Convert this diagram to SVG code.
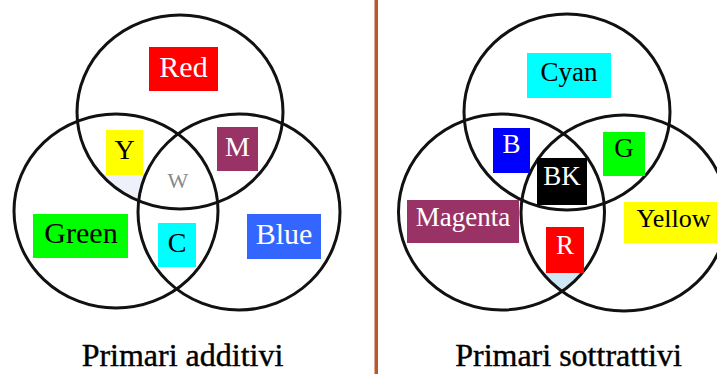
<svg xmlns="http://www.w3.org/2000/svg" width="717" height="374" viewBox="0 0 717 374">
<style>
.c{fill:none;stroke:#111;stroke-width:3}
.t{font-family:"Liberation Serif","Times New Roman",serif;text-anchor:middle}
.w{fill:#fff}
.k{fill:#000}
.h{stroke:#000;stroke-width:0.4}
</style>
<defs>
<clipPath id="lt"><ellipse cx="180" cy="112" rx="103" ry="97"/></clipPath>
<clipPath id="ll"><ellipse cx="116" cy="211" rx="102" ry="97"/></clipPath>
<clipPath id="rl"><ellipse cx="501.5" cy="212" rx="103" ry="98"/></clipPath>
<clipPath id="rr"><ellipse cx="624" cy="213" rx="103" ry="98"/></clipPath>
</defs>
<rect width="717" height="374" fill="#fff"/>
<rect x="374.5" y="0" width="3.5" height="374" fill="#b65a2e"/>

<!-- faint patches -->
<g clip-path="url(#lt)"><g clip-path="url(#ll)">
<rect x="90" y="174" width="60" height="40" fill="#eef1f9"/>
<ellipse cx="239" cy="212" rx="101" ry="98" fill="#fff"/>
</g></g>
<g clip-path="url(#rl)"><g clip-path="url(#rr)">
<rect x="530" y="273" width="70" height="45" fill="#cfe7f4"/>
</g></g>

<g id="connectors">
<ellipse class="c" cx="180" cy="112" rx="103" ry="97"/>
<ellipse class="c" cx="116" cy="211" rx="102" ry="97"/>
<ellipse class="c" cx="239" cy="212" rx="101" ry="98"/>
<ellipse class="c" cx="567" cy="112" rx="103" ry="98"/>
<ellipse class="c" cx="501.5" cy="212" rx="103" ry="98"/>
<ellipse class="c" cx="624" cy="213" rx="103" ry="98"/>
</g>

<g id="red"><rect x="149" y="47" width="69" height="44" fill="#f00"/><text class="t w" x="183.5" y="77" font-size="30">Red</text></g>
<g id="y"><rect x="106" y="130" width="37" height="45" fill="#ff0"/><text class="t k" x="124.5" y="159" font-size="28">Y</text></g>
<g id="m"><rect x="217" y="127" width="41" height="44" fill="#993366"/><text class="t w" x="237.5" y="156" font-size="28">M</text></g>
<g id="w"><text class="t" x="178" y="188" font-size="22" fill="#888">W</text></g>
<g id="green"><rect x="33" y="214" width="95" height="44" fill="#0f0"/><text class="t k" x="81" y="243" font-size="30">Green</text></g>
<g id="c"><rect x="158" y="223" width="38" height="44" fill="#0ff"/><text class="t k" x="177" y="252" font-size="28">C</text></g>
<g id="blue"><rect x="247" y="214" width="74" height="45" fill="#3366ff"/><text class="t w" x="284" y="244" font-size="30">Blue</text></g>
<g id="title-add"><text class="t k h" x="182.5" y="366" font-size="32">Primari additivi</text></g>

<g id="cyan"><rect x="527" y="53" width="84" height="45" fill="#0ff"/><text class="t k" x="569" y="81" font-size="27">Cyan</text></g>
<g id="b"><rect x="493" y="128" width="37" height="45" fill="#00f"/><text class="t w" x="511.5" y="153" font-size="27">B</text></g>
<g id="g"><rect x="603" y="132" width="42" height="44" fill="#0f0"/><text class="t k" x="624" y="157" font-size="27">G</text></g>
<g id="bk"><rect x="537" y="158" width="50" height="47" fill="#000"/><text class="t w" x="562" y="185" font-size="27">BK</text></g>
<g id="magenta"><rect x="407" y="200" width="112" height="43" fill="#993366"/><text class="t w" x="463" y="226" font-size="27">Magenta</text></g>
<g id="yellow"><rect x="624" y="202" width="93" height="41" fill="#ff0"/><text class="t k" x="673.5" y="227" font-size="26">Yellow</text></g>
<g id="r"><rect x="546" y="227" width="38" height="46" fill="#f00"/><text class="t w" x="565" y="254" font-size="27">R</text></g>
<g id="title-sub"><text class="t k h" x="568.5" y="366" font-size="32">Primari sottrattivi</text></g>
</svg>
